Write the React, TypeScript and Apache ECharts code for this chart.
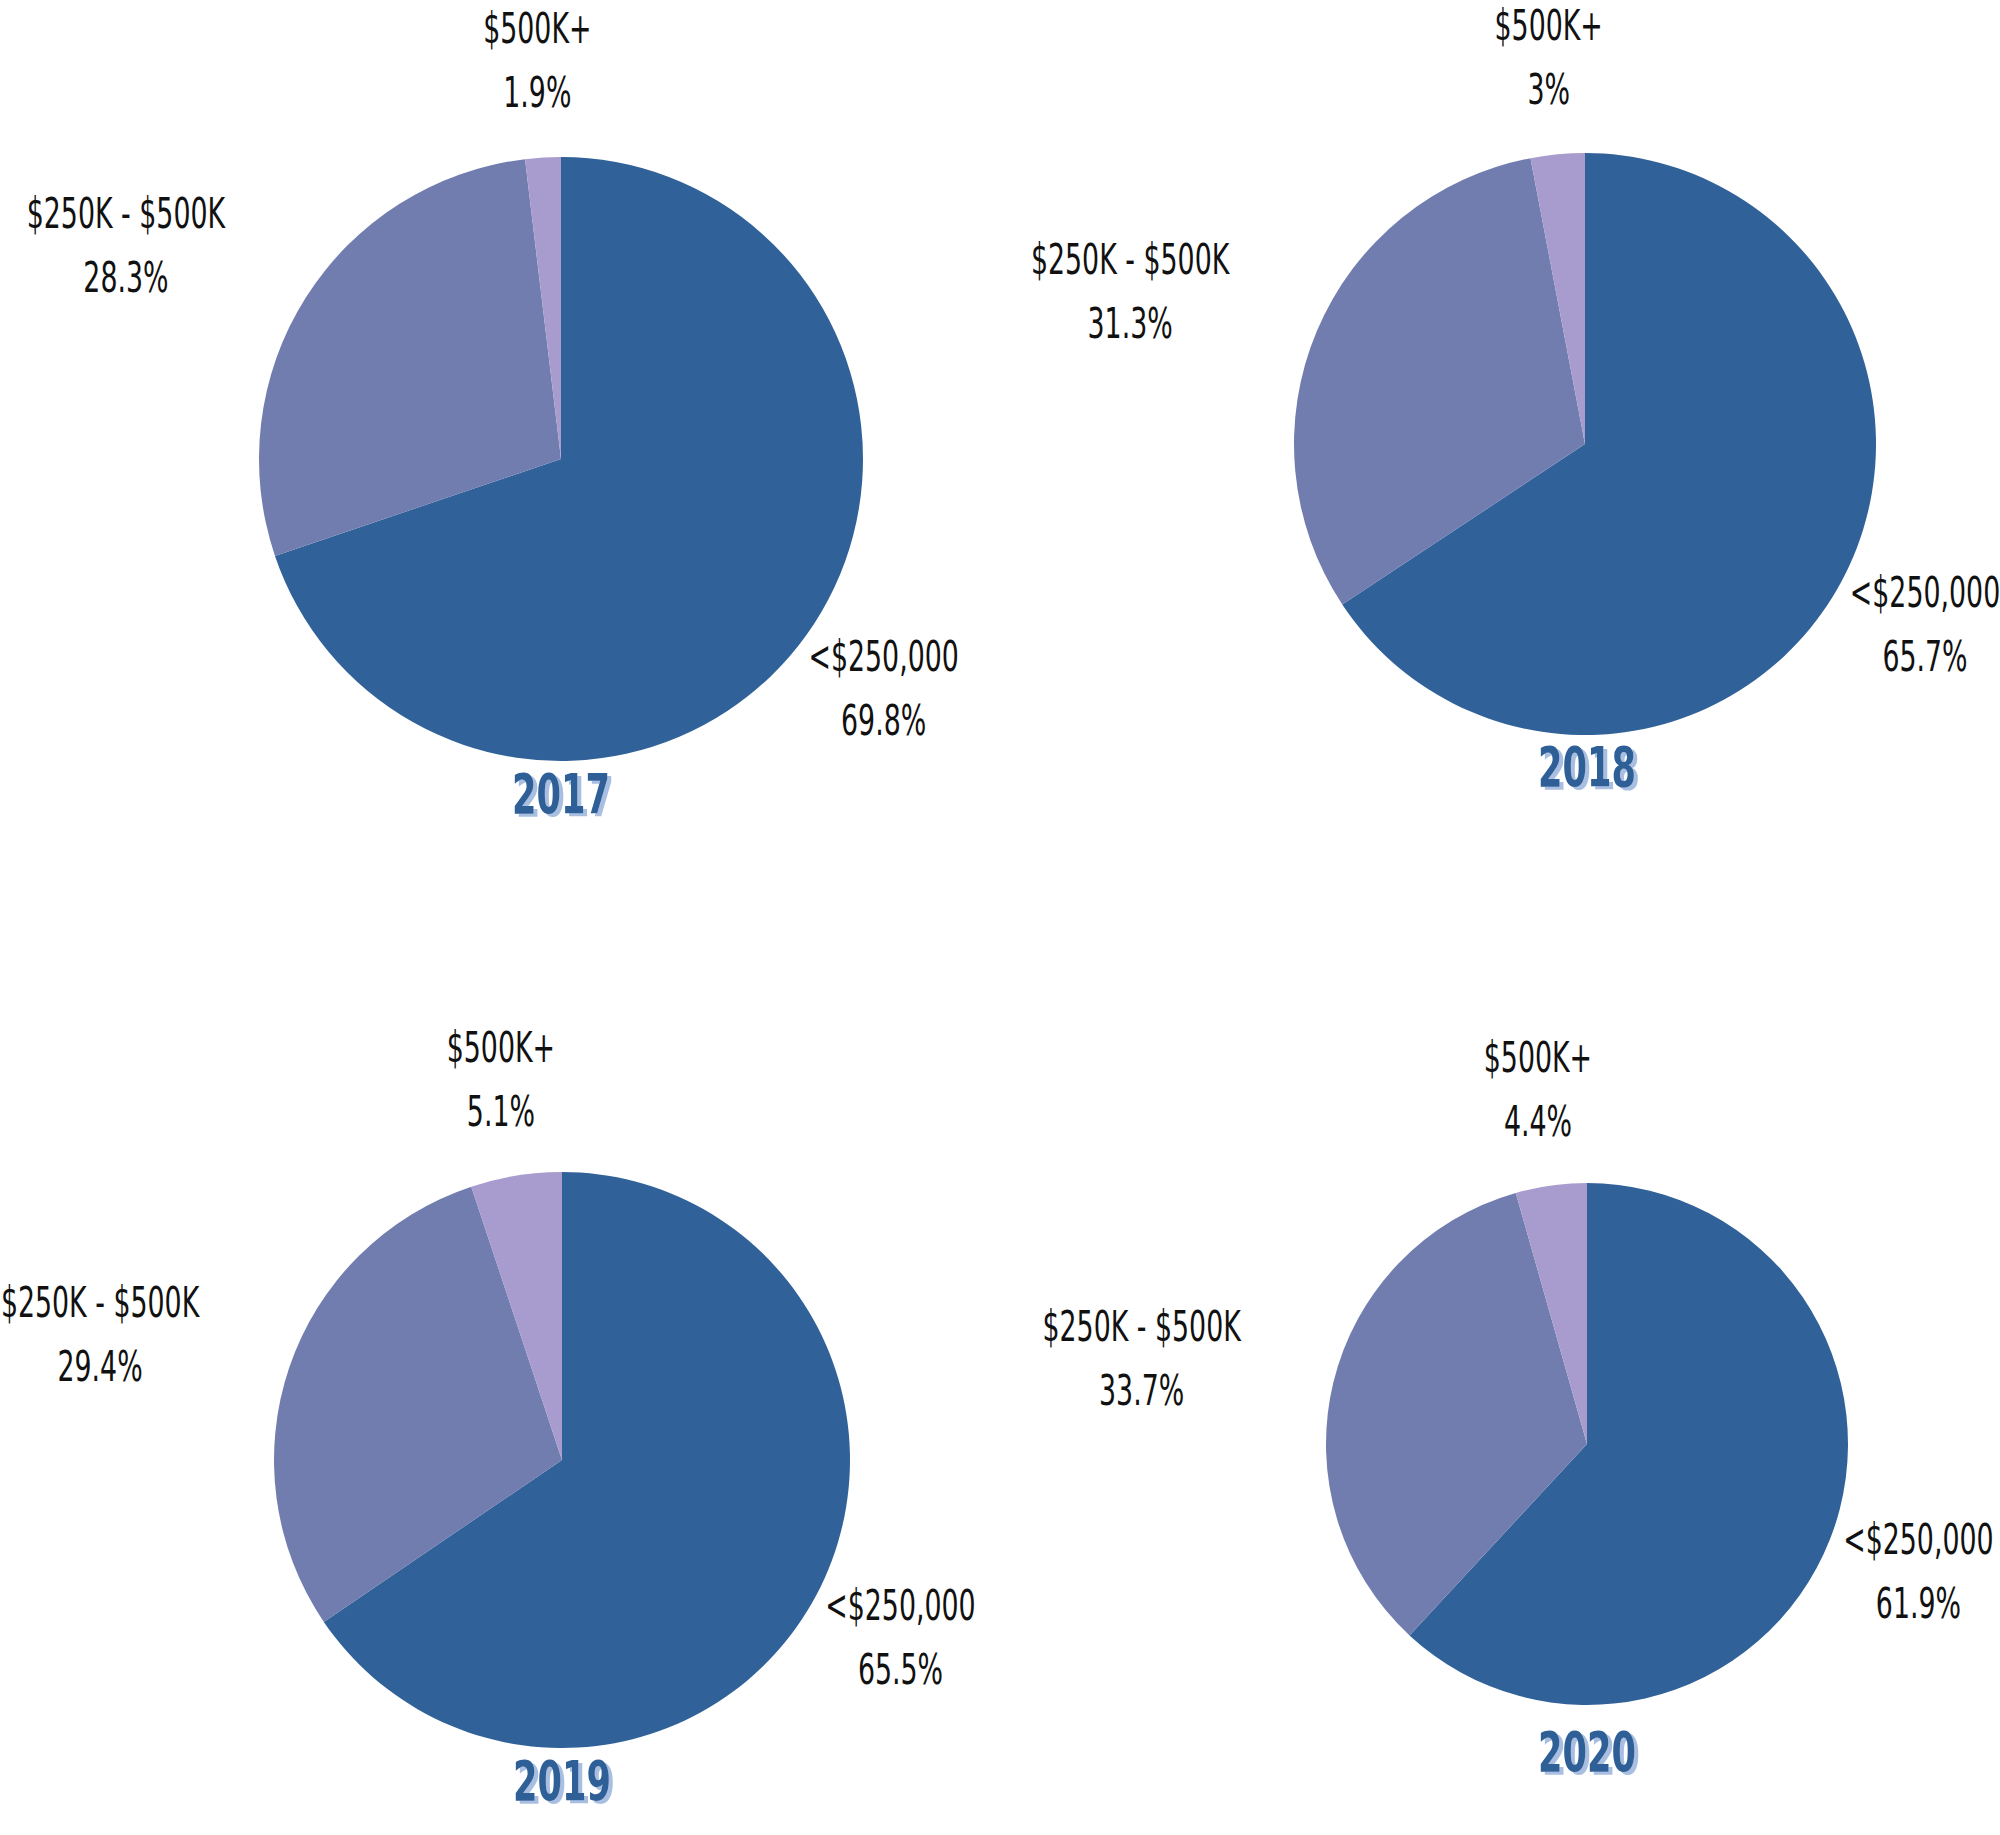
import React, { useEffect, useRef } from "react";
import * as echarts from "echarts";

const categories = ["<$250,000", "$250K - $500K", "$500K+"];
const years = ["2017", "2018", "2019", "2020"];
const values2017 = [69.8, 28.3, 1.9];
const values2018 = [65.7, 31.3, 3];
const values2019 = [65.5, 29.4, 5.1];
const values2020 = [61.9, 33.7, 4.4];
const seriesValues = [values2017, values2018, values2019, values2020];

const sliceColors = ["#306199", "#717daf", "#a79ccd"];
const pieCenters: [number, number][] = [
  [561, 459],
  [1585, 444],
  [562, 1460],
  [1587, 1444],
];
const pieRadii = [302, 291, 288, 261];
const titlePositions: [number, number][] = [
  [561, 793],
  [1587, 766],
  [562, 1780],
  [1587, 1751],
];
const LABEL_OFFSET = 95;
const FONT = "'DejaVu Sans Condensed', 'DejaVu Sans', sans-serif";
const LABEL_FONT_SIZE = 42;
const LABEL_SCALE_X = 0.71;
const TITLE_SCALE_X = 0.7;

function measure(text: string, font: string): number {
  const c = document.createElement("canvas");
  const ctx = c.getContext("2d");
  if (!ctx) return text.length * 20;
  ctx.font = font;
  return ctx.measureText(text).width;
}

export default function App() {
  const ref = useRef<HTMLDivElement>(null);
  useEffect(() => {
    document.body.style.margin = "0";
    if (!ref.current) return;
    const chart = echarts.init(ref.current, null, { renderer: "svg" });

    const series = seriesValues.map((vals, si) => ({
      type: "pie",
      name: years[si],
      center: pieCenters[si],
      radius: pieRadii[si],
      startAngle: 90,
      clockwise: true,
      avoidLabelOverlap: false,
      silent: true,
      data: vals.map((v, i) => ({
        name: categories[i],
        value: v,
        itemStyle: { color: sliceColors[i] },
      })),
      label: { show: false },
      labelLine: { show: false },
    }));

    const labelFont = `${LABEL_FONT_SIZE}px ${FONT}`;
    // Slice labels, placed from the same data the pie uses (condensed via scaleX)
    const labelGraphics: any[] = [];
    seriesValues.forEach((vals, si) => {
      const total = vals.reduce((a, b) => a + b, 0);
      let before = 0;
      vals.forEach((v, di) => {
        const mid = ((before + v / 2) / total) * Math.PI * 2;
        before += v;
        const dx = Math.sin(mid);
        const dy = -Math.cos(mid);
        const rr = pieRadii[si] + LABEL_OFFSET;
        const line1 = categories[di];
        const line2 = `${v}%`;
        let ax = pieCenters[si][0] + dx * rr;
        const ay = pieCenters[si][1] + dy * rr - 2;
        if (dx < -0.5) {
          const w = Math.max(measure(line1, labelFont), measure(line2, labelFont)) * LABEL_SCALE_X;
          ax -= w / 2;
        }
        labelGraphics.push({
          type: "group",
          x: ax,
          y: ay,
          scaleX: LABEL_SCALE_X,
          children: [
            {
              type: "text",
              x: 0,
              y: 0,
              style: {
                text: `${line1}\n${line2}`,
                fill: "#111111",
                font: labelFont,
                lineHeight: 64,
                align: "center",
                verticalAlign: "middle",
              },
            },
          ],
        });
      });
    });

    const titleGraphics = years.map((yr, i) => ({
      type: "group",
      x: titlePositions[i][0],
      y: titlePositions[i][1],
      scaleX: TITLE_SCALE_X,
      children: [
        {
          type: "text",
          x: 0,
          y: 0,
          style: {
            text: yr,
            fill: "#2f5f97",
            font: `bold 56px ${FONT}`,
            align: "center",
            verticalAlign: "middle",
            textShadowColor: "#a9bfe2",
            textShadowOffsetX: 4,
            textShadowOffsetY: 3,
            textShadowBlur: 1,
          },
        },
      ],
    }));

    chart.setOption({
      animation: false,
      backgroundColor: "#ffffff",
      series,
      graphic: [...labelGraphics, ...titleGraphics],
    } as any);
    return () => chart.dispose();
  }, []);
  return <div ref={ref} style={{ width: 2000, height: 1835 }} />;
}
